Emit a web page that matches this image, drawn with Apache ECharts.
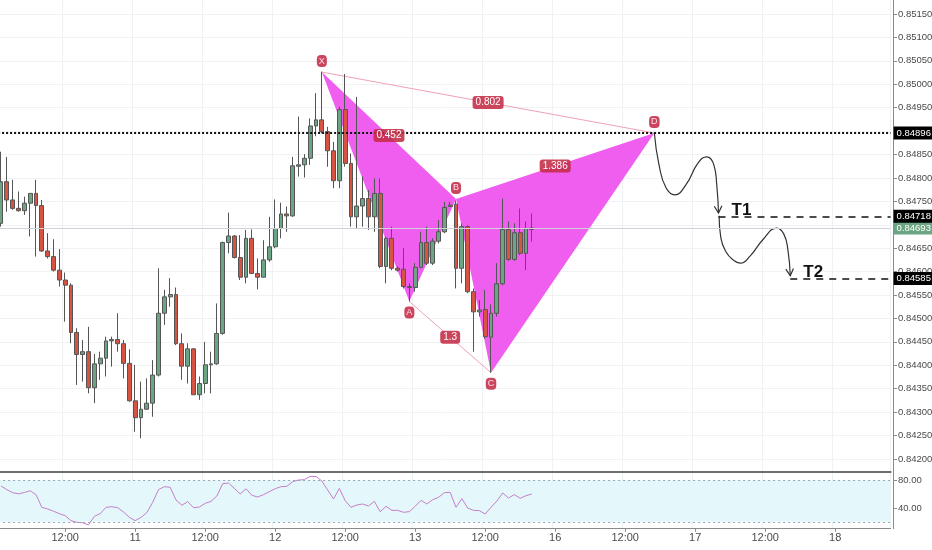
<!DOCTYPE html>
<html>
<head>
<meta charset="utf-8">
<script src="https://cdn.jsdelivr.net/npm/echarts@6/dist/echarts.min.js"></script>
<style>
html,body{margin:0;padding:0;background:#fff;}
#chart{width:932px;height:550px;}
</style>
</head>
<body>
<div id="chart"></div>
<script>
// hourly bars, first bar = day 10 01:00 (weekend skipped after 13)
var days = [10, 11, 12, 13, 16, 17, 18];
var firstHour = 1;
var barCount = 153;

// [open, close, low, high]
var candles = [
	[0.84703,0.84792,0.84696,0.84856],[0.84792,0.84753,0.84728,0.84845],[0.84753,0.84735,0.84732,0.84796],
	[0.84735,0.84730,0.84728,0.84771],[0.84730,0.84746,0.84721,0.84760],[0.84746,0.84767,0.84675,0.84767],
	[0.84767,0.84741,0.84632,0.84796],[0.84741,0.84644,0.84642,0.84753],[0.84644,0.84632,0.84628,0.84682],
	[0.84632,0.84603,0.84600,0.84669],[0.84603,0.84582,0.84568,0.84648],[0.84582,0.84571,0.84493,0.84598],
	[0.84571,0.84470,0.84447,0.84575],[0.84470,0.84423,0.84358,0.84479],[0.84423,0.84429,0.84365,0.84454],
	[0.84429,0.84352,0.84340,0.84482],[0.84352,0.84403,0.84319,0.84424],[0.84403,0.84415,0.84369,0.84429],
	[0.84415,0.84452,0.84376,0.84461],[0.84452,0.84455,0.84397,0.84461],[0.84455,0.84446,0.84429,0.84511],
	[0.84446,0.84404,0.84372,0.84454],[0.84404,0.84324,0.84322,0.84434],[0.84324,0.84288,0.84258,0.84401],
	[0.84288,0.84306,0.84244,0.84365],[0.84306,0.84319,0.84305,0.84372],[0.84319,0.84379,0.84290,0.84411],
	[0.84379,0.84511,0.84376,0.84607],[0.84511,0.84546,0.84486,0.84561],[0.84546,0.84551,0.84525,0.84586],
	[0.84551,0.84446,0.84443,0.84566],[0.84446,0.84398,0.84369,0.84468],[0.84398,0.84435,0.84361,0.84447],
	[0.84435,0.84337,0.84337,0.84436],[0.84337,0.84361,0.84326,0.84376],[0.84361,0.84401,0.84340,0.84450],
	[0.84401,0.84403,0.84340,0.84429],[0.84403,0.84468,0.84401,0.84532],[0.84468,0.84662,0.84465,0.84664],
	[0.84662,0.84676,0.84639,0.84726],[0.84676,0.84630,0.84628,0.84678],[0.84630,0.84588,0.84582,0.84678],
	[0.84588,0.84671,0.84575,0.84689],[0.84671,0.84596,0.84595,0.84690],[0.84596,0.84588,0.84562,0.84628],
	[0.84588,0.84625,0.84588,0.84667],[0.84625,0.84653,0.84621,0.84717],[0.84653,0.84692,0.84650,0.84754],
	[0.84692,0.84723,0.84671,0.84747],[0.84723,0.84719,0.84685,0.84739],[0.84719,0.84826,0.84717,0.84845],
	[0.84825,0.84828,0.84803,0.84931],[0.84828,0.84842,0.84801,0.84851],[0.84842,0.84911,0.84828,0.84927],
	[0.84911,0.84924,0.84889,0.84981],[0.84924,0.84899,0.84895,0.85027],[0.84899,0.84858,0.84824,0.84909],
	[0.84858,0.84794,0.84778,0.84877],[0.84794,0.84946,0.84778,0.84952],[0.84946,0.84831,0.84824,0.85022],
	[0.84831,0.84717,0.84696,0.84852],[0.84717,0.84740,0.84692,0.84973],[0.84740,0.84756,0.84696,0.84803],
	[0.84756,0.84717,0.84689,0.84774],[0.84717,0.84767,0.84685,0.84799],[0.84767,0.84611,0.84607,0.84799],
	[0.84611,0.84671,0.84575,0.84675],[0.84671,0.84607,0.84603,0.84696],[0.84607,0.84603,0.84600,0.84611],
	[0.84605,0.84568,0.84564,0.84650],[0.84568,0.84566,0.84536,0.84575],[0.84566,0.84609,0.84557,0.84618],
	[0.84609,0.84662,0.84607,0.84685],[0.84662,0.84618,0.84614,0.84696],[0.84618,0.84665,0.84614,0.84671],
	[0.84665,0.84685,0.84660,0.84710],[0.84685,0.84737,0.84682,0.84749],[0.84739,0.84742,0.84739,0.84749],
	[0.84744,0.84607,0.84564,0.84752],[0.84607,0.84696,0.84575,0.84703],[0.84696,0.84557,0.84554,0.84699],
	[0.84557,0.84514,0.84429,0.84564],[0.84514,0.84518,0.84504,0.84539],[0.84519,0.84461,0.84457,0.84561],
	[0.84460,0.84511,0.84384,0.84530],[0.84511,0.84574,0.84504,0.84618],[0.84574,0.84690,0.84571,0.84756],
	[0.84690,0.84626,0.84623,0.84707],[0.84626,0.84683,0.84623,0.84703],[0.84683,0.84639,0.84635,0.84735],
	[0.84639,0.84692,0.84603,0.84707],[0.84690,0.84693,0.84664,0.84724]
];

var rsi = [
	71.8,66.5,62.1,60.5,62.3,64.9,59.3,41.0,38.6,35.4,
	31.8,28.9,21.7,19.3,18.8,15.5,28.0,31.8,41.0,41.9,
	40.5,34.2,26.5,21.7,26.5,33.3,48.2,66.5,70.8,69.9,
	51.6,43.9,49.2,40.5,41.4,46.7,49.6,57.3,75.1,76.1,
	68.4,60.2,67.9,58.3,55.9,59.3,63.6,67.9,70.8,71.3,
	78.0,80.4,80.9,85.7,85.5,79.0,66.0,53.0,68.4,50.6,
	41.0,44.3,45.8,42.9,49.6,34.7,42.4,36.6,36.6,33.8,
	34.7,42.4,51.1,45.8,52.0,55.4,62.1,62.6,41.0,53.5,
	40.0,36.6,36.2,31.3,41.0,50.1,61.7,54.4,59.3,54.0,
	57.8,60.2
];

var priceTicks = [0.842,0.8425,0.843,0.8435,0.844,0.8445,0.845,0.8455,0.846,0.8465,
	0.847,0.8475,0.848,0.8485,0.849,0.8495,0.85,0.8505,0.851,0.8515];
var rsiTicks = [40, 80];
var rsiBand = [20, 80];

// harmonic pattern X A B C D (bar index, price)
var patternNames = ['X', 'A', 'B', 'C', 'D'];
var patternIdx = [55, 70, 78, 84, 112];
var patternPrice = [0.85026, 0.84536, 0.84755, 0.84384, 0.84896];
var ratioLinks = [[0, 2], [1, 3], [2, 4], [0, 4]];
var ratioText = ['0.452', '1.3', '1.386', '0.802'];

// projected swing paths (bar index, price)
var pathT1 = [[112,0.84896],[112.8,0.84828],[114,0.84779],[115.5,0.84764],[117.4,0.84785],
	[119.5,0.84832],[121,0.84845],[122.2,0.84828],[122.7,0.84785],[123,0.84725]];
var pathT2 = [[123.1,0.84719],[123.4,0.84672],[124.3,0.84642],[125.5,0.84625],[126.7,0.84618],
	[128.4,0.84633],[130.6,0.84668],[133,0.84693],[134.2,0.84680],[134.9,0.84646],[135.3,0.84591]];
var targets = [0.84718, 0.84585];
var targetNames = ['T1', 'T2'];
var entryLevel = 0.84896;
var lastPrice = 0.84693;

var categories = [];
var d = 0, h = firstHour;
for (var i = 0; i < barCount; i++) {
	categories.push(days[d] + ' ' + (h < 10 ? '0' : '') + h + ':00');
	h++;
	if (h == 24) { h = 0; d++; }
}
function isMark(index, value) {
	return / (00|12):00$/.test(value);
}

var font = '"Liberation Sans", Arial, sans-serif';

function axisBox(bg, v) {
	return {
		show: true, position: 'end', distance: 3,
		formatter: v.toFixed(5),
		backgroundColor: bg, color: '#fff',
		padding: [2, 2, 1, 3], fontSize: 9.5, fontFamily: font
	};
}

function patternShapes(params, api) {
	var pts = patternIdx.map(function (x, k) { return api.coord([x, patternPrice[k]]); });
	var fill = '#f05ef0';
	return {
		type: 'group',
		children: [
			{ type: 'polygon', shape: { points: [pts[0], pts[1], pts[2]] }, style: { fill: fill } },
			{ type: 'polygon', shape: { points: [pts[2], pts[3], pts[4]] }, style: { fill: fill } },
			{ type: 'line', shape: { x1: pts[0][0], y1: pts[0][1], x2: pts[4][0], y2: pts[4][1] }, style: { stroke: '#f0a2b4', lineWidth: 1 } },
			{ type: 'line', shape: { x1: pts[1][0], y1: pts[1][1], x2: pts[3][0], y2: pts[3][1] }, style: { stroke: '#f0a2b4', lineWidth: 1 } }
		]
	};
}

function overlayShapes(params, api) {
	var pts = patternIdx.map(function (x, k) { return api.coord([x, patternPrice[k]]); });
	var children = [];
	ratioLinks.forEach(function (lk, k) {
		var a = pts[lk[0]], b = pts[lk[1]];
		children.push({
			type: 'text', x: (a[0] + b[0]) / 2, y: (a[1] + b[1]) / 2,
			style: { text: ratioText[k], fill: '#fff', fontSize: 10, fontFamily: font,
				backgroundColor: 'rgba(196,44,70,0.88)', padding: [2, 3, 1, 3], borderRadius: 3,
				align: 'center', verticalAlign: 'middle' }
		});
	});
	patternNames.forEach(function (n, k) {
		var up = k % 2 === 0;
		children.push({
			type: 'text', x: pts[k][0], y: pts[k][1] + (up ? -11 : 11),
			style: { text: n, fill: '#fde', fontSize: 9, fontFamily: font,
				backgroundColor: 'rgba(196,44,70,0.88)', padding: [2, 2, 1, 2], borderRadius: 4,
				align: 'center', verticalAlign: 'middle' }
		});
	});
	[pathT1, pathT2].forEach(function (path, k) {
		var tip = api.coord(path[path.length - 1]);
		var prev = api.coord(path[path.length - 2]);
		var ang = Math.atan2(tip[1] - prev[1], tip[0] - prev[0]);
		var len = 8, spread = 0.5;
		var p1 = [tip[0] - len * Math.cos(ang - spread), tip[1] - len * Math.sin(ang - spread)];
		var p2 = [tip[0] - len * Math.cos(ang + spread), tip[1] - len * Math.sin(ang + spread)];
		children.push({ type: 'polyline', shape: { points: [p1, tip, p2] }, style: { stroke: '#333', lineWidth: 1.2, fill: null } });
		var lvl = api.coord([path[path.length - 1][0], targets[k]]);
		children.push({
			type: 'text', x: lvl[0] + 13, y: lvl[1] - 6,
			style: { text: targetNames[k], fontSize: 17, fontWeight: 'bold', fontFamily: font, fill: '#111', verticalAlign: 'middle' }
		});
	});
	return { type: 'group', children: children };
}

var chart = echarts.init(document.getElementById('chart'));
var option = {
	animation: false,
	backgroundColor: '#fff',
	textStyle: { fontFamily: font },
	grid: [
		{ left: -1.9, right: 41.4, top: 0, height: 472, outerBoundsMode: 'none' },
		{ left: -1.9, right: 41.4, top: 472, height: 56.7, outerBoundsMode: 'none' }
	],
	xAxis: [
		{
			type: 'category', gridIndex: 0, data: categories, boundaryGap: true,
			axisLine: { show: true, onZero: false, lineStyle: { color: '#6e6e6e', width: 2 } },
			axisTick: { show: false }, axisLabel: { show: false },
			splitLine: { show: true, interval: isMark, lineStyle: { color: '#eff1f4' } }
		},
		{ type: 'value', gridIndex: 0, min: -0.5, max: barCount - 0.5, show: false },
		{
			type: 'category', gridIndex: 1, data: categories, boundaryGap: true,
			axisLine: { show: true, onZero: false, lineStyle: { color: '#8a8a8a' } },
			axisTick: { show: true, interval: isMark, alignWithLabel: true, length: 3, lineStyle: { color: '#8a8a8a' } },
			axisLabel: {
				interval: isMark, margin: 4, color: '#4a4a4a', fontSize: 11,
				formatter: function (v) { return /00:00$/.test(v) ? v.split(' ')[0] : '12:00'; }
			},
			splitLine: { show: true, interval: isMark, lineStyle: { color: '#e8f1f3' } }
		}
	],
	yAxis: [
		{
			type: 'value', gridIndex: 0, position: 'right', offset: 2.4,
			min: 0.84172, max: 0.85180,
			axisLine: { show: true, onZero: false, lineStyle: { color: '#8a8a8a' } },
			axisTick: { show: true, customValues: priceTicks, length: 4, lineStyle: { color: '#8a8a8a' } },
			axisLabel: { customValues: priceTicks, margin: 5, color: '#4a4a4a', fontSize: 9.5,
				formatter: function (v) { return v.toFixed(5); } },
			splitLine: { show: true, lineStyle: { color: '#f1f2f5' } }
		},
		{
			type: 'value', gridIndex: 1, position: 'right', offset: 2.4,
			min: 10.1, max: 92,
			axisLine: { show: true, onZero: false, lineStyle: { color: '#8a8a8a' } },
			axisTick: { show: true, customValues: rsiTicks, length: 4, lineStyle: { color: '#8a8a8a' } },
			axisLabel: { customValues: rsiTicks, margin: 5, color: '#4a4a4a', fontSize: 9.5,
				formatter: function (v) { return v.toFixed(2); } },
			splitLine: { show: false }
		}
	],
	series: [
		{
			type: 'custom', xAxisIndex: 1, yAxisIndex: 0, z: 1, silent: true,
			data: [[0, entryLevel]], renderItem: patternShapes
		},
		{
			type: 'candlestick', xAxisIndex: 0, yAxisIndex: 0, z: 2,
			data: candles, barWidth: 4.4,
			itemStyle: {
				color: '#6ba583', color0: '#d75442',
				borderColor: '#555', borderColor0: '#555', borderWidth: 1
			}
		},
		{
			type: 'line', xAxisIndex: 1, yAxisIndex: 0, z: 4, data: pathT1,
			smooth: true, showSymbol: false, symbol: 'none',
			lineStyle: { color: '#333', width: 1.2 },
			markLine: {
				symbol: ['none', 'none'], silent: true, animation: false, precision: 6,
				data: [
					{ yAxis: lastPrice, lineStyle: { color: '#cfd2d6', type: 'solid', width: 1 }, label: axisBox('#6ba583', lastPrice) },
					{ yAxis: entryLevel, lineStyle: { color: '#111', type: [2, 2], width: 2 }, label: axisBox('#000', entryLevel) },
					[{ coord: [pathT1[pathT1.length - 1][0], targets[0]], lineStyle: { color: '#111', type: [7, 6], width: 1.5 }, label: axisBox('#000', targets[0]) },
					 { coord: [barCount - 0.5, targets[0]] }],
					[{ coord: [pathT2[pathT2.length - 1][0], targets[1]], lineStyle: { color: '#111', type: [7, 6], width: 1.5 }, label: axisBox('#000', targets[1]) },
					 { coord: [barCount - 0.5, targets[1]] }]
				]
			}
		},
		{
			type: 'line', xAxisIndex: 1, yAxisIndex: 0, z: 4, data: pathT2,
			smooth: true, showSymbol: false, symbol: 'none',
			lineStyle: { color: '#333', width: 1.2 }
		},
		{
			type: 'custom', xAxisIndex: 1, yAxisIndex: 0, z: 6, silent: true,
			data: [[0, entryLevel]], renderItem: overlayShapes
		},
		{
			type: 'line', xAxisIndex: 2, yAxisIndex: 1, data: rsi,
			showSymbol: false, symbol: 'none',
			lineStyle: { color: '#c77ec8', width: 1 },
			markArea: {
				silent: true,
				itemStyle: { color: '#e4f8fb' },
				data: [[{ yAxis: rsiBand[0] }, { yAxis: rsiBand[1] }]]
			},
			markLine: {
				symbol: ['none', 'none'], silent: true, label: { show: false },
				lineStyle: { color: '#9aa3b5', type: [2, 3], width: 1 },
				data: [{ yAxis: rsiBand[0] }, { yAxis: rsiBand[1] }]
			}
		}
	]
};
chart.setOption(option);
</script>
</body>
</html>
